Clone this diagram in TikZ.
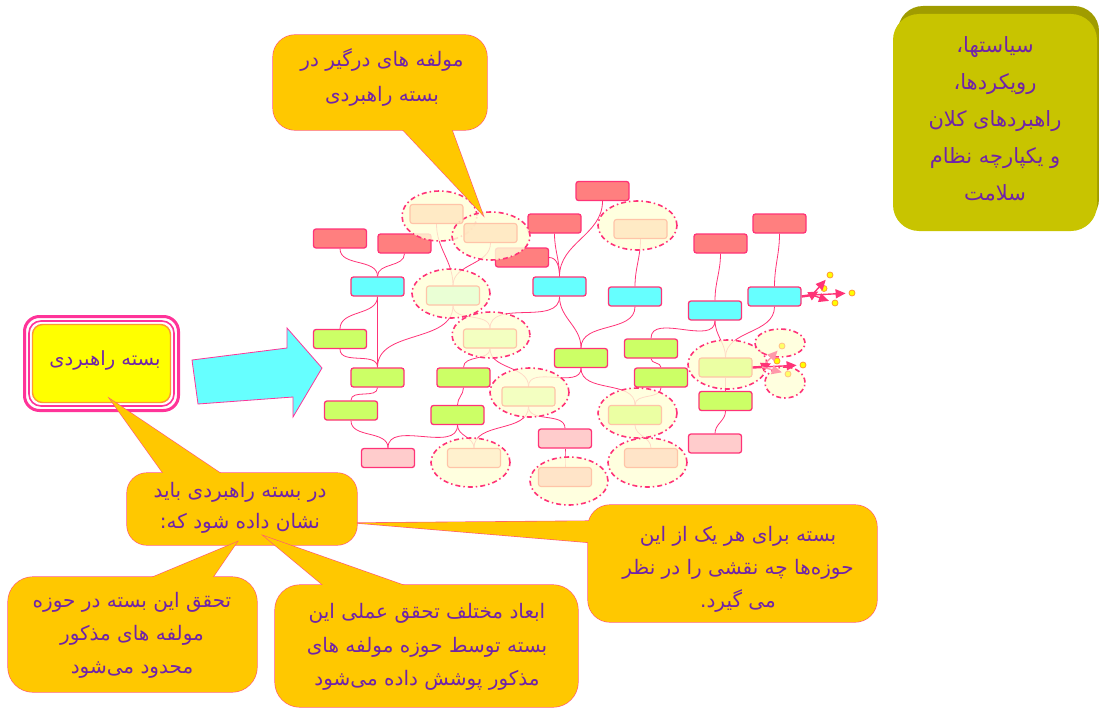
\documentclass[tikz,border=0pt]{standalone}
\usepackage{fontspec}
\usetikzlibrary{arrows.meta,shapes.geometric}
\TeXXeTstate=1
\newfontfamily\fa[Script=Arabic]{DejaVu Sans}

\definecolor{linkc}{HTML}{FF3377}
\definecolor{boxline}{HTML}{FF3377}
\definecolor{redc}{HTML}{FF7F7F}
\definecolor{cyanc}{HTML}{66FFFF}
\definecolor{greenc}{HTML}{CCFF66}
\definecolor{pinkc}{HTML}{FFCCCC}
\definecolor{haloc}{HTML}{FFFFD8}
\definecolor{fadeline}{HTML}{FFC4A8}
\definecolor{fpeach}{HTML}{FFE6C0}
\definecolor{fgreen}{HTML}{E6FFD4}
\definecolor{fyg}{HTML}{F2FFBC}
\definecolor{fcream}{HTML}{FFF0CC}
\definecolor{fgreentwo}{HTML}{E8FF99}
\definecolor{fpeachtwo}{HTML}{FFE0C4}
\definecolor{callc}{HTML}{FFC800}
\definecolor{cborder}{HTML}{FF5577}
\definecolor{textc}{HTML}{7024A8}
\definecolor{olive}{HTML}{C8C400}
\definecolor{oliveD}{HTML}{A09C00}
\definecolor{yellowc}{HTML}{FFFF00}
\definecolor{orangec}{HTML}{FF9933}
\definecolor{pinkb}{HTML}{FF3399}
\definecolor{fadearrow}{HTML}{FF99AA}

\pgfdeclarelayer{bg}
\pgfsetlayers{bg,main}

\tikzset{
  link/.style={draw=linkc, line width=0.8pt},
  mm/.style={draw=boxline, line width=1.3pt, rounded corners=2.5pt,
    minimum width=53pt, minimum height=19pt, inner sep=0pt},
  redbox/.style={mm, fill=redc},
  cyanbox/.style={mm, fill=cyanc},
  greenbox/.style={mm, fill=greenc},
  pinkbox/.style={mm, fill=pinkc},
  fadebox/.style={draw=fadeline, line width=1.1pt, rounded corners=2.5pt,
    minimum width=53pt, minimum height=19pt, inner sep=0pt, fill opacity=0.85},
  halo/.style={ellipse, inner sep=0pt, fill=haloc, fill opacity=0.82,
    draw=boxline, line width=1.6pt,
    dash pattern=on 5pt off 3pt on 1.5pt off 3pt},
  cline/.style={draw=cborder, line width=1.2pt},
  cfill/.style={fill=callc},
  ctext/.style={text=textc, align=center, inner sep=0pt},
  dot/.style={circle, fill=yellowc, draw=orangec, line width=0.8pt,
    minimum size=6pt, inner sep=0pt},
  arr/.style={draw=linkc, line width=1.4pt, -{Triangle[length=10pt,width=9pt]}},
  farr/.style={draw=fadearrow, line width=1.4pt, -{Triangle[length=10pt,width=9pt]}},
}

\begin{document}
\begin{tikzpicture}[x=1pt,y=-1pt]
\useasboundingbox (0,0) rectangle (1099,709);

% ---------- mind map boxes ----------
\node[redbox] (R1) at (340,238.5) {};
\node[redbox] (R2) at (404.5,243.5) {};
\node[redbox] (R3) at (554.5,223.5) {};
\node[redbox] (R4) at (522,257.5) {};
\node[redbox] (R5) at (602.5,191) {};
\node[redbox] (R6) at (720.5,243.5) {};
\node[redbox] (R7) at (779.5,223.5) {};

\node[cyanbox] (C1) at (377.5,286.5) {};
\node[cyanbox] (C2) at (559.5,286.5) {};
\node[cyanbox] (C3) at (635,296.5) {};
\node[cyanbox] (C4) at (715,310.5) {};
\node[cyanbox] (C5) at (774.5,296.5) {};

\node[greenbox] (G1) at (340,339) {};
\node[greenbox] (G2) at (377.5,377.5) {};
\node[greenbox] (G3) at (351,410.5) {};
\node[greenbox] (G4) at (463.5,377.5) {};
\node[greenbox] (G5) at (457.5,415) {};
\node[greenbox] (G6) at (581,358) {};
\node[greenbox] (G7) at (651,348.5) {};
\node[greenbox] (G8) at (661,377.5) {};
\node[greenbox] (G9) at (725.5,401) {};

\node[pinkbox] (P1) at (388,458) {};
\node[pinkbox] (P2) at (715,443.5) {};
\node[pinkbox] (P3) at (565,438.5) {};

% ---------- highlighted groups ----------
\node[halo, minimum width=75pt, minimum height=50pt] (H1) at (439.5,216) {};
\node[halo, minimum width=78pt, minimum height=48pt] (H2) at (491,236) {};
\node[halo, minimum width=79pt, minimum height=49pt] (H3) at (637.5,225.5) {};
\node[halo, minimum width=78pt, minimum height=49pt] (H4) at (451,293.5) {};
\node[halo, minimum width=78pt, minimum height=46pt] (H5) at (491,335) {};
\node[halo, minimum width=79pt, minimum height=49pt] (H6) at (529.5,392.5) {};
\node[halo, minimum width=79pt, minimum height=49pt] (H7) at (470.5,462.5) {};
\node[halo, minimum width=79pt, minimum height=49pt] (H8) at (727.5,364.5) {};
\node[halo, minimum width=79pt, minimum height=50pt] (H9) at (637.5,413) {};
\node[halo, minimum width=79pt, minimum height=49pt] (H10) at (647.5,462.5) {};
\node[halo, minimum width=78pt, minimum height=48pt] (H11) at (569,481) {};
\node[halo, minimum width=50pt, minimum height=28pt] (H12) at (780,343) {};
\node[halo, minimum width=40pt, minimum height=31pt] (H13) at (785,382.5) {};

\node[fadebox, fill=fpeach] (F1) at (436.5,214) {};
\node[fadebox, fill=fpeach] (F2) at (490.5,233) {};
\node[fadebox, fill=fpeach] (F3) at (640.5,229) {};
\node[fadebox, fill=fgreen] (F4) at (453,295.5) {};
\node[fadebox, fill=fyg] (F5) at (490,338.5) {};
\node[fadebox, fill=fyg] (F6) at (528.5,396.5) {};
\node[fadebox, fill=fcream] (F7) at (474,458) {};
\node[fadebox, fill=fgreentwo] (F8) at (725.5,367.5) {};
\node[fadebox, fill=fgreentwo] (F9) at (635,415) {};
\node[fadebox, fill=fpeachtwo] (F10) at (651,458) {};
\node[fadebox, fill=fpeachtwo] (F11) at (565,477) {};

% ---------- connectors ----------
\begin{pgfonlayer}{bg}
  \foreach \a/\b in {R1/C1,R2/C1,F1/F4,F2/F4,R3/C2,R5/C2,F3/C3,R6/C4,R7/C5,
      C1/G1,C1/G2,G1/G2,F4/G2,C2/F5,F4/F5,G2/G3,G3/P1,G5/P1,F5/G4,G4/G5,
      G5/F7,F5/F6,C2/G6,C3/G6,G6/F9,G6/F6,G8/F9,G7/G8,C4/G7,C4/F8,C5/F8,
      F8/G9,G9/P2,F9/F10,F6/P3,P3/F11,F6/F7}
    \draw[link] (\a.south) to[out=-90,in=90] (\b.north);
  \draw[link] (R4.east) to[out=0,in=90] (C2.north);
\end{pgfonlayer}

% ---------- arrow fans ----------
\coordinate (hubA) at (812,295);
\node[dot] (dA1) at (830,275) {};
\node[dot] (dA2) at (824,288.5) {};
\node[dot] (dA3) at (852,293) {};
\node[dot] (dA4) at (835,303) {};
\draw[link, line width=2.4pt] (C5.east) -- (hubA);
\draw[arr, shorten >=3pt] (hubA) -- (dA1);
\draw[arr, shorten >=3pt] (hubA) -- (dA2);
\draw[arr, shorten >=3pt] (hubA) -- (dA3);
\draw[arr, shorten >=3pt] (hubA) -- (dA4);

\coordinate (hubB) at (762,367);
\node[dot, fill=yellowc!60, draw=orangec!60] (dB1) at (782,346) {};
\node[dot] (dB2) at (777,361) {};
\node[dot] (dB3) at (803,365) {};
\node[dot, fill=yellowc!60, draw=orangec!60] (dB4) at (788,374) {};
\draw[link, line width=2.4pt] (F8.east) -- (hubB);
\draw[farr, shorten >=3pt] (hubB) -- (dB1);
\draw[arr, shorten >=3pt] (hubB) -- (dB2);
\draw[arr, shorten >=3pt] (hubB) -- (dB3);
\draw[farr, shorten >=3pt] (hubB) -- (dB4);

% ---------- big arrow ----------
\draw[fill=cyanc, draw=pinkb, line width=0.8pt]
  (192,360) -- (287,348) -- (287,328) -- (322,368) -- (293,417)
  -- (293,397) -- (198,404) -- cycle;

% ---------- left framed box ----------
\draw[draw=pinkb, line width=3pt, fill=white, rounded corners=15pt]
  (24.5,316.5) rectangle (178.5,410.5);
\draw[draw=pinkb, line width=1.6pt, rounded corners=12pt]
  (29,321) rectangle (174,406);
\draw[draw=orangec, line width=1.4pt, fill=yellowc, rounded corners=10pt]
  (32.5,324.5) rectangle (170.5,402.5);
\node[ctext, font=\fa\fontsize{19.5}{22}\selectfont] (lbl) at (105,360)
  {\beginR بسته راهبردی\endR};

% ---------- callouts ----------
% top
\draw[cline, rounded corners=22pt] (273,35) rectangle (487,130);
\draw[cline] (395.5,122) -- (483,215) -- (449,122);
\fill[cfill, rounded corners=22pt] (273,35) rectangle (487,130);
\fill[cfill] (395.5,122) -- (483,215) -- (449,122) -- cycle;
\node[ctext, font=\fa\fontsize{20}{35}\selectfont] (ttop) at (382,77.5)
  {\beginR مولفه های درگیر در\endR\\\beginR بسته راهبردی\endR};

% middle
\draw[cline, rounded corners=20pt] (127,473) rectangle (357,545);
\draw[cline] (168.7,481) -- (110,399) -- (232,481);
\fill[cfill, rounded corners=20pt] (127,473) rectangle (357,545);
\fill[cfill] (168.7,481) -- (110,399) -- (232,481) -- cycle;
\node[ctext, font=\fa\fontsize{20}{31}\selectfont] (tmid) at (240,507.5)
  {\beginR در بسته راهبردی باید\endR\\\beginR نشان داده شود که:\endR};

% right
\draw[cline, rounded corners=22pt] (588,505) rectangle (877,622);
\draw[cline] (596,521) -- (357,523) -- (596,543);
\fill[cfill, rounded corners=22pt] (588,505) rectangle (877,622);
\fill[cfill] (596,521) -- (357,523) -- (596,543) -- cycle;
\node[ctext, font=\fa\fontsize{20}{33}\selectfont] (tright) at (738,569)
  {\beginR بسته برای هر یک از این\endR\\\beginR حوزه‌ها چه نقشی را در نظر\endR\\\beginR می گیرد.\endR};

% bottom left
\draw[cline, rounded corners=25pt] (8,577) rectangle (257,692);
\draw[cline] (133.8,585) -- (237,542) -- (207.5,585);
\fill[cfill, rounded corners=25pt] (8,577) rectangle (257,692);
\fill[cfill] (133.8,585) -- (237,542) -- (207.5,585) -- cycle;
\node[ctext, font=\fa\fontsize{20}{33}\selectfont] (tbl) at (132,635)
  {\beginR تحقق این بسته در حوزه\endR\\\beginR مولفه های مذکور\endR\\\beginR محدود می‌شود\endR};

% bottom middle
\draw[cline, rounded corners=25pt] (275,585) rectangle (578,707);
\draw[cline] (332.6,593) -- (264,536) -- (425.7,593);
\fill[cfill, rounded corners=25pt] (275,585) rectangle (578,707);
\fill[cfill] (332.6,593) -- (264,536) -- (425.7,593) -- cycle;
\node[ctext, font=\fa\fontsize{20}{33.5}\selectfont] (tbm) at (427,647)
  {\beginR ابعاد مختلف تحقق عملی این\endR\\\beginR بسته توسط حوزه مولفه های\endR\\\beginR مذکور پوشش داده می‌شود\endR};

% ---------- olive box with raised top edge ----------
\fill[oliveD, rounded corners=25pt] (898,6) rectangle (1099,224);
\fill[olive, rounded corners=26pt] (893,14) rectangle (1097,231);
\node[ctext, font=\fa\fontsize{21}{37}\selectfont] (tolive) at (995,119)
  {\beginR سیاستها،\endR\\\beginR رویکردها،\endR\\\beginR راهبردهای کلان\endR\\\beginR و یکپارچه نظام\endR\\\beginR سلامت\endR};

\end{tikzpicture}
\end{document}
